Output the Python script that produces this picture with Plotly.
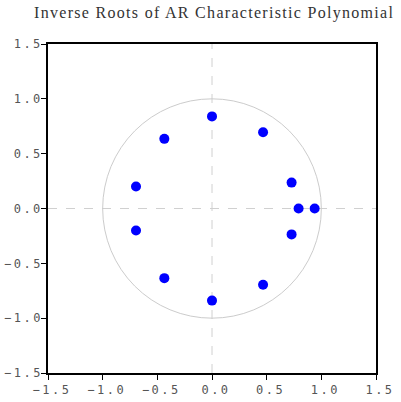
import plotly.graph_objects as go

# Inverse roots (real, imaginary)
root_re = [0.0, 0.467, -0.436, 0.728, 0.792, 0.939, -0.695, -0.695, 0.728, -0.436, 0.467, 0.0]
root_im = [0.84, 0.695, 0.635, 0.236, 0.0, 0.0, 0.20, -0.20, -0.236, -0.635, -0.695, -0.84]
tick_vals = [-1.5, -1.0, -0.5, 0.0, 0.5, 1.0, 1.5]
tick_labels = ["\u22121.5", "\u22121.0", "\u22120.5", "0.0", "0.5", "1.0", "1.5"]
title_text = "Inverse Roots of AR Characteristic Polynomial"

tick_text = ['<span style="letter-spacing:2.5px">%s</span>' % t for t in tick_labels]

fig = go.Figure()
fig.add_trace(go.Scatter(x=root_re, y=root_im, mode="markers",
                         marker=dict(color="#0000ff", size=10, line=dict(width=0)),
                         showlegend=False, hoverinfo="x+y"))

fig.add_shape(type="circle", xref="x", yref="y", x0=-1, y0=-1, x1=1, y1=1,
              line=dict(color="#cccccc", width=1), layer="below")
fig.add_shape(type="line", xref="x", yref="paper", x0=0, x1=0, y0=0, y1=1,
              line=dict(color="#d0d0d0", width=1, dash="dash"), layer="below")
fig.add_shape(type="line", xref="paper", yref="y", x0=0, x1=1, y0=0, y1=0,
              line=dict(color="#d0d0d0", width=1, dash="dash"), layer="below")

axis_common = dict(range=[-1.5, 1.5], tickvals=tick_vals, ticktext=tick_text,
                   showgrid=False, zeroline=False, showline=True, mirror=True,
                   linecolor="black", linewidth=1.5, ticks="outside", ticklen=5,
                   tickcolor="black", tickwidth=1, automargin=False,
                   tickfont=dict(family="DejaVu Sans Mono", size=12, color="#555555"))

fig.update_layout(
    width=401, height=402,
    margin=dict(l=48, r=25, t=44, b=29),
    paper_bgcolor="white", plot_bgcolor="white",
    title=dict(text='<span style="letter-spacing:1.3px">%s</span>' % title_text,
               x=0.534, xanchor="center", y=0.970, yanchor="middle", automargin=False,
               font=dict(family="Liberation Serif", size=16, color="#333333")),
    xaxis=dict(axis_common, ticklabelshift=4),
    yaxis=dict(axis_common, ticklabelstandoff=-4),
)
fig.write_html("out.html", post_script="document.body.style.margin='0';",
               config={"displayModeBar": False})
